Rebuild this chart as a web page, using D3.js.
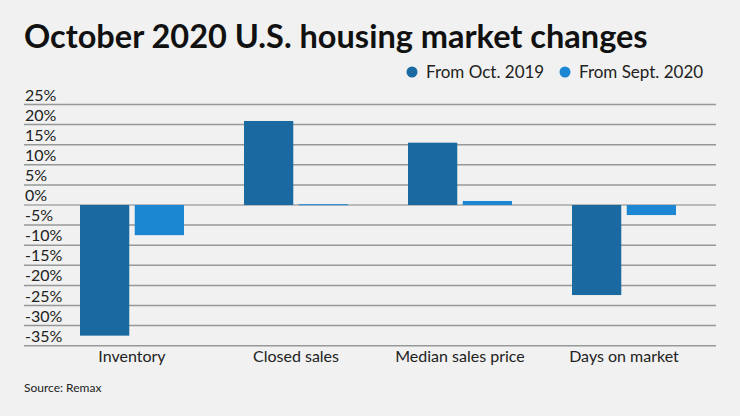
<!DOCTYPE html>
<html>
<head>
<meta charset="utf-8">
<script src="https://cdn.jsdelivr.net/npm/d3@7"></script>
<style>
  html, body { margin: 0; padding: 0; background: #f0f1f0; }
  svg { display: block; font-family: Lato, "Open Sans", sans-serif; }
</style>
</head>
<body>
<div class="canvas"></div>
<script>
// data
const categories = ['Inventory', 'Closed sales', 'Median sales price', 'Days on market'];
const seriesNames = ['From Oct. 2019', 'From Sept. 2020'];
const fromOct2019 = [-32.5, 20.9, 15.5, -22.4];
const fromSept2020 = [-7.5, 0.2, 1.0, -2.5];
const yTicks = [25, 20, 15, 10, 5, 0, -5, -10, -15, -20, -25, -30, -35];

const colors = ['#1a69a0', '#1b87d3'];
const width = 740, height = 416;

const svg = d3.select('.canvas')
  .append('svg')
  .attr('width', width)
  .attr('height', height);

svg.append('rect')
  .attr('width', width)
  .attr('height', height)
  .attr('fill', '#f0f1f0');

// title
svg.append('text')
  .attr('x', 24)
  .attr('y', 48)
  .attr('font-size', 32.5)
  .attr('font-weight', 700)
  .attr('fill', '#111')
  .text('October 2020 U.S. housing market changes');

// scales
const y = d3.scaleLinear()
  .domain([-35, 25])
  .range([345.7, 104.5]);

const x0 = d3.scaleBand()
  .domain(categories)
  .range([50, 706])
  .paddingInner(0.366)
  .paddingOuter(0.183);

const x1 = d3.scaleBand()
  .domain(seriesNames)
  .range([0, x0.bandwidth()])
  .paddingInner(0.1);

// gridlines + tick labels
const grid = svg.append('g');
grid.selectAll('line')
  .data(yTicks)
  .enter()
  .append('line')
  .attr('x1', 24)
  .attr('x2', 716)
  .attr('y1', d => y(d))
  .attr('y2', d => y(d))
  .attr('stroke', d => d === 0 ? '#b9bbbb' : '#969898')
  .attr('stroke-width', d => d === 0 ? 2 : 1.5);

grid.selectAll('text')
  .data(yTicks)
  .enter()
  .append('text')
  .attr('x', 25)
  .attr('y', d => y(d) - 4)
  .attr('font-size', 16)
  .attr('fill', '#222')
  .text(d => d + '%');

// bars
const rows = categories.map((c, i) => ({
  category: c,
  values: [fromOct2019[i], fromSept2020[i]]
}));

const groups = svg.selectAll('.group')
  .data(rows)
  .enter()
  .append('g')
  .attr('class', 'group')
  .attr('transform', d => `translate(${x0(d.category)},0)`);

groups.selectAll('rect')
  .data(d => d.values.map((v, j) => ({ name: seriesNames[j], value: v, j })))
  .enter()
  .append('rect')
  .attr('x', d => x1(d.name))
  .attr('width', x1.bandwidth())
  .attr('y', d => y(Math.max(0, d.value)))
  .attr('height', d => Math.max(1, Math.abs(y(d.value) - y(0))))
  .attr('fill', d => colors[d.j]);

// category labels
svg.selectAll('.cat')
  .data(categories)
  .enter()
  .append('text')
  .attr('class', 'cat')
  .attr('x', d => x0(d) + x0.bandwidth() / 2)
  .attr('y', 362)
  .attr('text-anchor', 'middle')
  .attr('font-size', 16)
  .attr('fill', '#222')
  .text(d => d);

// legend
const legendX = [412, 565];
const legend = svg.selectAll('.legend')
  .data(seriesNames)
  .enter()
  .append('g')
  .attr('class', 'legend')
  .attr('transform', (d, i) => `translate(${legendX[i]},72)`);

legend.append('circle')
  .attr('r', 5.5)
  .attr('fill', (d, i) => colors[i]);

legend.append('text')
  .attr('x', 14)
  .attr('y', 6)
  .attr('font-size', 17)
  .attr('fill', '#222')
  .text(d => d);

// source
svg.append('text')
  .attr('x', 24)
  .attr('y', 392)
  .attr('font-size', 12)
  .attr('fill', '#222')
  .text('Source: Remax');
</script>
</body>
</html>
